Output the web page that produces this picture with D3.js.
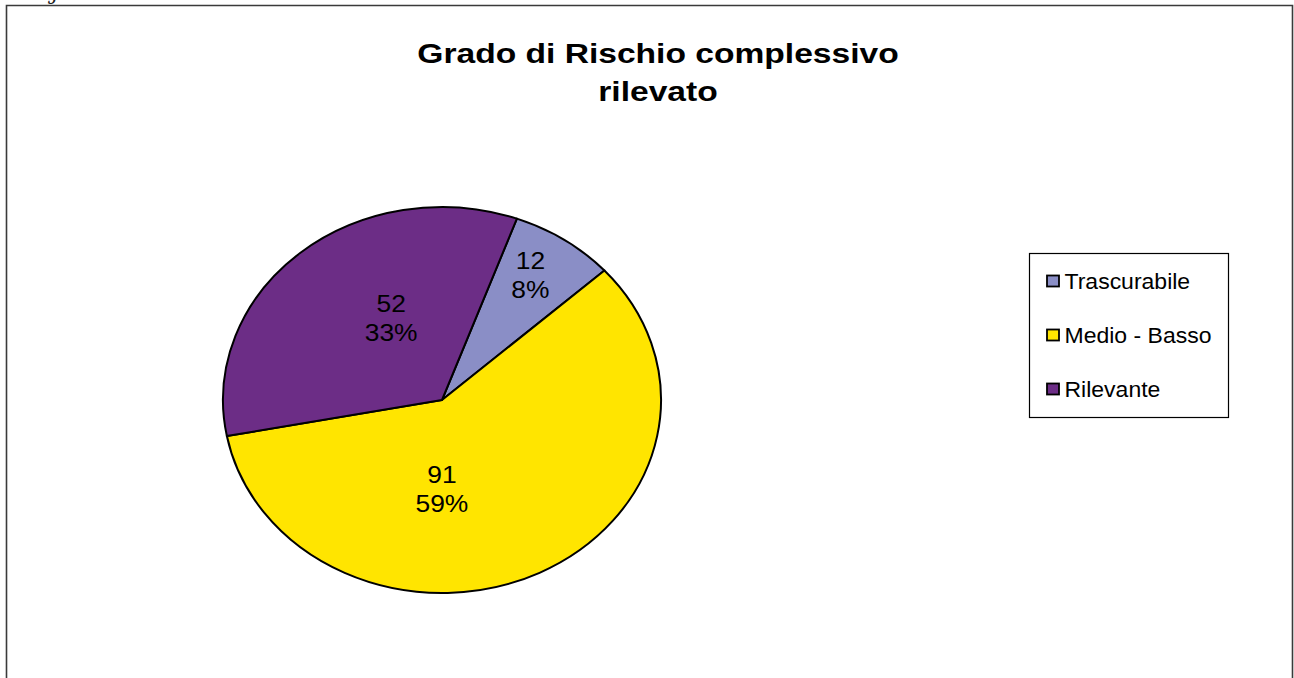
<!DOCTYPE html>
<html>
<head>
<meta charset="utf-8">
<script src="https://cdn.jsdelivr.net/npm/d3@7"></script>
<style>
  html, body { margin: 0; padding: 0; background: #fff; }
  svg { display: block; }
</style>
</head>
<body>
<svg id="chart" width="1294" height="678"></svg>
<script>
// ---- data ----
const categories = ["Trascurabile", "Medio - Basso", "Rilevante"];
const values = [12, 91, 52];
const percentLabels = ["8%", "59%", "33%"];
const titleLines = ["Grado di Rischio complessivo", "rilevato"];

// ---- style / layout ----
const colors = ["#8A8EC6", "#FFE500", "#6C2D86"];
const W = 1294, H = 678;
const cx = 442, cy = 400, rx = 219, ry = 193;
const startDeg = 20;
// label placement (angle shift from slice mid, radius fraction)
const labelShiftDeg = [-2.0, 26.5, 11.6];
const labelRadiusFrac = [0.763, 0.461, 0.482];

const svg = d3.select("#chart");

// frame
svg.append("path")
  .attr("d", `M6.5,${H + 5} V5.5 H1292.5 V${H + 5}`)
  .attr("fill", "none")
  .attr("stroke", "#3a3a3a")
  .attr("stroke-width", 1.6);

// cropped glyph at top-left
svg.append("text")
  .attr("x", 52).attr("y", -1)
  .attr("font-family", "DejaVu Serif")
  .attr("font-style", "italic")
  .attr("font-size", 22)
  .attr("fill", "#222")
  .text("j");

// title
const title = svg.append("g");
titleLines.forEach((t, i) => {
  title.append("text")
    .attr("transform", `translate(658,${63 + i * 37.5}) scale(1.2,1)`)
    .attr("text-anchor", "middle")
    .attr("font-family", "Liberation Sans, Arial, sans-serif")
    .attr("font-weight", "bold")
    .attr("font-size", 28)
    .attr("fill", "#000")
    .text(t);
});

// pie
const data = categories.map((c, i) => ({ cat: c, value: values[i], pct: percentLabels[i], i }));
const pie = d3.pie().sort(null).value(d => d.value)
  .startAngle(startDeg * Math.PI / 180)
  .endAngle(startDeg * Math.PI / 180 + 2 * Math.PI);
const arcs = pie(data);
const arc = d3.arc().innerRadius(0).outerRadius(ry);
const color = d3.scaleOrdinal().domain(categories).range(colors);

const pieG = svg.append("g")
  .attr("transform", `translate(${cx},${cy}) scale(${rx / ry},1)`);
pieG.selectAll("path")
  .data(arcs)
  .join("path")
  .attr("d", arc)
  .attr("fill", d => color(d.data.cat))
  .attr("stroke", "#000")
  .attr("stroke-width", 2)
  .attr("stroke-linejoin", "round")
  .attr("vector-effect", "non-scaling-stroke");

// labels
const labelG = svg.append("g").attr("transform", `translate(${cx},${cy})`);
arcs.forEach(a => {
  const i = a.data.i;
  const mid = (a.startAngle + a.endAngle) / 2 + labelShiftDeg[i] * Math.PI / 180;
  const x = Math.sin(mid) * rx * labelRadiusFrac[i];
  const y = -Math.cos(mid) * ry * labelRadiusFrac[i];
  const g = labelG.append("g").attr("transform", `translate(${x},${y}) scale(1.1,1)`);
  const t = g.append("text")
    .attr("text-anchor", "middle")
    .attr("font-family", "Liberation Sans, Arial, sans-serif")
    .attr("font-size", 24)
    .attr("fill", "#000");
  t.append("tspan").attr("x", 0).attr("y", -6).text(a.data.value);
  t.append("tspan").attr("x", 0).attr("y", 23).text(a.data.pct);
});

// legend
const lg = svg.append("g");
lg.append("rect")
  .attr("x", 1029.5).attr("y", 253.5)
  .attr("width", 199).attr("height", 164)
  .attr("fill", "#fff")
  .attr("stroke", "#000")
  .attr("stroke-width", 1.2);
const legendY = d3.scalePoint().domain(categories).range([281, 389]);
categories.forEach((c, i) => {
  const y = legendY(c);
  lg.append("rect")
    .attr("x", 1047).attr("y", y - 5.5)
    .attr("width", 12).attr("height", 11)
    .attr("fill", color(c))
    .attr("stroke", "#000")
    .attr("stroke-width", 1.8);
  lg.append("text")
    .attr("transform", `translate(1064.5,${y + 7.5}) scale(1.07,1)`)
    .attr("font-family", "Liberation Sans, Arial, sans-serif")
    .attr("font-size", 21.5)
    .attr("fill", "#000")
    .text(c);
});
</script>
</body>
</html>
